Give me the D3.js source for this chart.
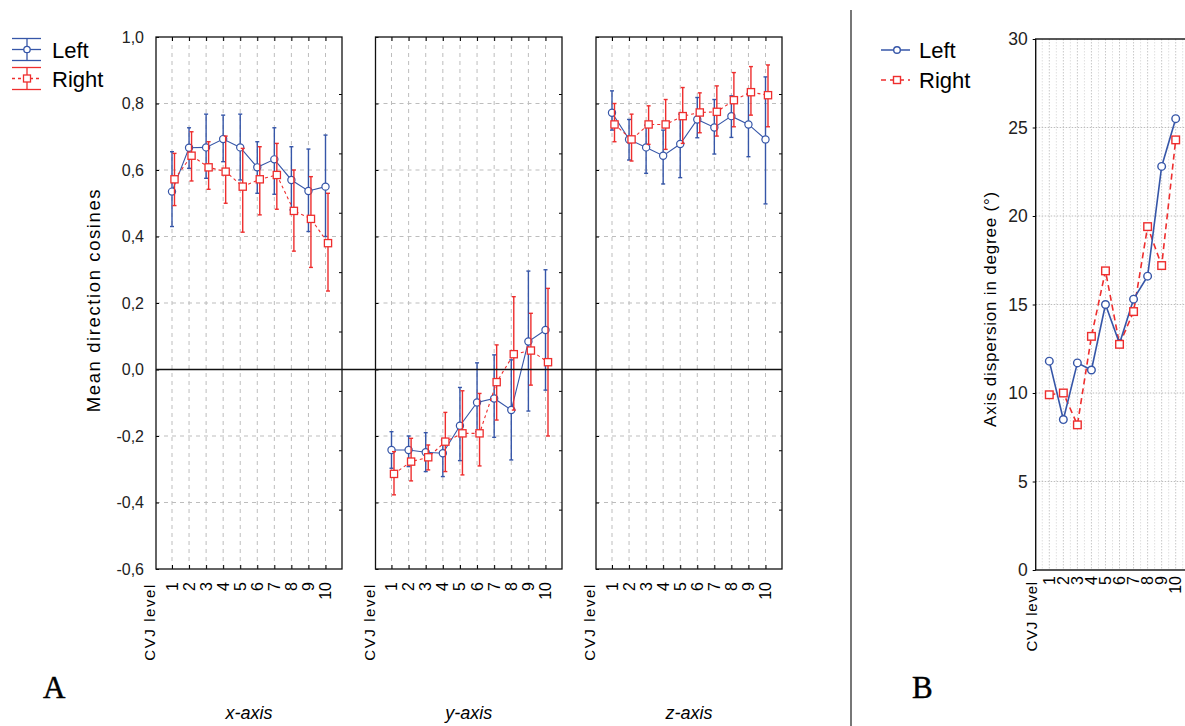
<!DOCTYPE html>
<html>
<head>
<meta charset="utf-8">
<script src="https://cdn.jsdelivr.net/npm/d3@7"></script>
<style>
  body { margin: 0; background: #fff; }
  svg { display: block; font-family: 'Liberation Sans', Arial, sans-serif; }
</style>
</head>
<body>
<svg id="chart" width="1185" height="726"></svg>
<script>
// CVJ levels and panel names
const levels = ['1', '2', '3', '4', '5', '6', '7', '8', '9', '10'];
const axisNames = ['x-axis', 'y-axis', 'z-axis'];
const cosineTicks = [-0.6, -0.4, -0.2, 0.0, 0.2, 0.4, 0.6, 0.8, 1.0];
const degreeTicks = [0, 5, 10, 15, 20, 25, 30];

// panel A, x-axis
const xLeftMean = [0.535, 0.667, 0.668, 0.693, 0.668, 0.608, 0.632, 0.570, 0.537, 0.550];
const xLeftLo   = [0.430, 0.605, 0.575, 0.625, 0.570, 0.530, 0.527, 0.480, 0.415, 0.400];
const xLeftHi   = [0.655, 0.727, 0.768, 0.765, 0.768, 0.685, 0.727, 0.670, 0.663, 0.705];
const xRightMean = [0.572, 0.643, 0.608, 0.595, 0.550, 0.572, 0.585, 0.477, 0.453, 0.380];
const xRightLo   = [0.493, 0.567, 0.542, 0.500, 0.413, 0.465, 0.482, 0.356, 0.307, 0.236];
const xRightHi   = [0.650, 0.715, 0.685, 0.702, 0.665, 0.670, 0.680, 0.600, 0.580, 0.530];

// panel A, y-axis
const yLeftMean = [-0.242, -0.242, -0.249, -0.252, -0.169, -0.099, -0.087, -0.122, 0.084, 0.119];
const yLeftLo   = [-0.297, -0.292, -0.307, -0.322, -0.274, -0.187, -0.204, -0.272, -0.125, -0.062];
const yLeftHi   = [-0.187, -0.200, -0.190, -0.212, -0.054, 0.020, 0.044, 0.029, 0.296, 0.300];
const yRightMean = [-0.314, -0.277, -0.264, -0.217, -0.192, -0.192, -0.038, 0.046, 0.057, 0.022];
const yRightLo   = [-0.377, -0.335, -0.302, -0.307, -0.317, -0.290, -0.152, -0.122, -0.047, -0.200];
const yRightHi   = [-0.247, -0.207, -0.227, -0.129, -0.064, -0.072, 0.074, 0.219, 0.169, 0.244];

// panel A, z-axis
const zLeftMean = [0.772, 0.692, 0.668, 0.643, 0.678, 0.752, 0.728, 0.762, 0.737, 0.692];
const zLeftLo   = [0.720, 0.630, 0.590, 0.558, 0.577, 0.697, 0.648, 0.698, 0.640, 0.498];
const zLeftHi   = [0.838, 0.752, 0.735, 0.720, 0.768, 0.818, 0.812, 0.823, 0.830, 0.880];
const zRightMean = [0.737, 0.692, 0.737, 0.737, 0.762, 0.773, 0.775, 0.810, 0.834, 0.825];
const zRightLo   = [0.685, 0.627, 0.677, 0.662, 0.680, 0.712, 0.702, 0.730, 0.765, 0.730];
const zRightHi   = [0.800, 0.768, 0.793, 0.812, 0.848, 0.832, 0.853, 0.893, 0.911, 0.916];

// panel B, axis dispersion (degrees)
const dispLeft  = [11.8, 8.5, 11.7, 11.3, 15.0, 12.8, 15.3, 16.6, 22.8, 25.5];
const dispRight = [9.9, 10.0, 8.2, 13.2, 16.9, 12.75, 14.6, 19.4, 17.2, 24.3];

const blue = '#3656a8';
const red = '#ee2e2e';
const gridColor = '#bdbdbd';

const svg = d3.select('#chart');

// ---------- panel A ----------
const yA = d3.scaleLinear().domain([-0.6, 1.0]).range([569, 37]);
// unlabeled right-hand ticks of each frame
const yRight = d3.scaleLinear().domain([0, 8.96]).range([569, 37]);
const panels = [[156, 342], [375.5, 562], [596, 782]];

const series = [
  { left: [xLeftMean, xLeftLo, xLeftHi], right: [xRightMean, xRightLo, xRightHi] },
  { left: [yLeftMean, yLeftLo, yLeftHi], right: [yRightMean, yRightLo, yRightHi] },
  { left: [zLeftMean, zLeftLo, zLeftHi], right: [zRightMean, zRightLo, zRightHi] }
];

const fmt = v => d3.format('.1f')(v).replace('.', ',').replace('−', '-');

panels.forEach((p, k) => {
  const g = svg.append('g');
  const x = d3.scalePoint().domain(levels).range([p[0] + 16, p[1] - 16.5]);

  // grid
  g.append('g').selectAll('line').data(cosineTicks.filter(t => t > -0.6 && t < 1.0 && t !== 0))
    .enter().append('line')
    .attr('x1', p[0]).attr('x2', p[1])
    .attr('y1', d => yA(d)).attr('y2', d => yA(d))
    .attr('stroke', gridColor).attr('stroke-dasharray', '4,4');
  g.append('g').selectAll('line').data(levels)
    .enter().append('line')
    .attr('x1', d => x(d)).attr('x2', d => x(d))
    .attr('y1', yA(1.0)).attr('y2', yA(-0.6))
    .attr('stroke', gridColor).attr('stroke-dasharray', '4,4');

  // inward ticks on all sides
  g.append('g').attr('transform', `translate(${p[0]},0)`)
    .call(d3.axisRight(yA).tickValues(cosineTicks).tickSize(3).tickFormat(''))
    .call(a => a.select('.domain').remove());
  g.append('g').attr('transform', `translate(${p[1]},0)`)
    .call(d3.axisLeft(yRight).tickValues([1, 2, 3, 4, 5, 6, 7, 8]).tickSize(3).tickFormat(''))
    .call(a => a.select('.domain').remove());
  g.append('g').attr('transform', `translate(0,${yA(-0.6)})`)
    .call(d3.axisTop(x).tickSize(4).tickFormat(''))
    .call(a => a.select('.domain').remove());
  g.append('g').attr('transform', `translate(0,${yA(1.0)})`)
    .call(d3.axisBottom(x).tickSize(4).tickFormat(''))
    .call(a => a.select('.domain').remove());

  // rotated level labels
  g.append('g').selectAll('text').data(levels)
    .enter().append('text')
    .attr('transform', d => `translate(${x(d) + 5.5},582) rotate(-90)`)
    .attr('text-anchor', 'end')
    .attr('font-size', 16)
    .text(d => d);
  g.append('text')
    .attr('transform', `translate(${p[0] - 1},583) rotate(-90)`)
    .attr('text-anchor', 'end')
    .attr('font-size', 15)
    .attr('letter-spacing', 1.6)
    .text('CVJ level');

  // panel title
  g.append('text')
    .attr('x', (p[0] + p[1]) / 2).attr('y', 719)
    .attr('text-anchor', 'middle')
    .attr('font-size', 18).attr('font-style', 'italic')
    .text(axisNames[k]);

  // frame
  g.append('rect')
    .attr('x', p[0]).attr('y', yA(1.0))
    .attr('width', p[1] - p[0]).attr('height', yA(-0.6) - yA(1.0))
    .attr('fill', 'none').attr('stroke', '#111').attr('stroke-width', 1.3);

  const drawSeries = (vals, color, dash, dx, shape) => {
    const [mean, lo, hi] = vals;
    const line = d3.line().x((d, i) => x(levels[i]) + dx).y(d => yA(d));
    g.append('path').datum(mean)
      .attr('d', line).attr('fill', 'none')
      .attr('stroke', color).attr('stroke-width', 1.1)
      .attr('stroke-dasharray', dash);
    const eb = g.append('g').attr('stroke', color).attr('stroke-width', 1.4);
    levels.forEach((l, i) => {
      const cx = x(l) + dx;
      eb.append('line').attr('x1', cx).attr('x2', cx).attr('y1', yA(lo[i])).attr('y2', yA(hi[i]));
      eb.append('line').attr('x1', cx - 2).attr('x2', cx + 2).attr('y1', yA(lo[i])).attr('y2', yA(lo[i]));
      eb.append('line').attr('x1', cx - 2).attr('x2', cx + 2).attr('y1', yA(hi[i])).attr('y2', yA(hi[i]));
    });
    if (shape === 'circle') {
      g.append('g').selectAll('circle').data(mean).enter().append('circle')
        .attr('cx', (d, i) => x(levels[i]) + dx).attr('cy', d => yA(d)).attr('r', 3.6)
        .attr('fill', '#fff').attr('stroke', color).attr('stroke-width', 1.2);
    } else {
      g.append('g').selectAll('rect').data(mean).enter().append('rect')
        .attr('x', (d, i) => x(levels[i]) + dx - 3.6).attr('y', d => yA(d) - 3.6)
        .attr('width', 7.2).attr('height', 7.2)
        .attr('fill', '#fff').attr('stroke', color).attr('stroke-width', 1.3);
    }
  };
  drawSeries(series[k].left, blue, null, 0, 'circle');
  drawSeries(series[k].right, red, '3,3', 2.5, 'square');
});

// zero line across all three frames
svg.append('line')
  .attr('x1', panels[0][0]).attr('x2', panels[2][1])
  .attr('y1', yA(0)).attr('y2', yA(0))
  .attr('stroke', '#111').attr('stroke-width', 1.5);

// left axis labels
svg.append('g').attr('transform', `translate(${panels[0][0]},0)`)
  .call(d3.axisLeft(yA).tickValues(cosineTicks).tickSize(0).tickPadding(12).tickFormat(fmt))
  .call(a => a.select('.domain').remove())
  .call(a => a.selectAll('text').attr('font-size', 16).attr('fill', '#222')
    .attr('font-family', "'Liberation Sans Narrow', 'Liberation Sans', Arial, sans-serif"));

svg.append('text')
  .attr('transform', 'translate(100,300) rotate(-90)')
  .attr('text-anchor', 'middle').attr('font-size', 18.5).attr('letter-spacing', 1.6)
  .text('Mean direction cosines');

// legend A
const legA = svg.append('g');
[[49.5, blue, null, 'Left'], [78.5, red, '3,3', 'Right']].forEach(([cy, color, dash, label]) => {
  const lg = legA.append('g').attr('stroke', color).attr('stroke-width', 1.3);
  lg.append('line').attr('x1', 12).attr('x2', 41).attr('y1', cy - 11).attr('y2', cy - 11);
  lg.append('line').attr('x1', 12).attr('x2', 41).attr('y1', cy + 11).attr('y2', cy + 11);
  lg.append('line').attr('x1', 27).attr('x2', 27).attr('y1', cy - 11).attr('y2', cy + 11);
  lg.append('line').attr('x1', 12).attr('x2', 41).attr('y1', cy).attr('y2', cy).attr('stroke-dasharray', dash);
  if (label === 'Left') {
    lg.append('circle').attr('cx', 27).attr('cy', cy).attr('r', 3.2).attr('fill', '#fff');
  } else {
    lg.append('rect').attr('x', 23.5).attr('y', cy - 3.5).attr('width', 7).attr('height', 7).attr('fill', '#fff');
  }
  legA.append('text').attr('x', 52).attr('y', cy + 8).attr('font-size', 22).text(label);
});

svg.append('text').attr('x', 43).attr('y', 698)
  .attr('font-family', "'Liberation Serif', 'Times New Roman', serif")
  .attr('font-size', 31).attr('stroke', '#000').attr('stroke-width', 0.5).text('A');

// divider
svg.append('line').attr('x1', 851).attr('x2', 851).attr('y1', 10).attr('y2', 726)
  .attr('stroke', '#777').attr('stroke-width', 2);

// ---------- panel B ----------
const bLeft = 1035.7, bRight = 1190, bTop = 39, bBottom = 570;
const yB = d3.scaleLinear().domain([0, 30]).range([bBottom, bTop]);
const xB = d3.scalePoint().domain(levels).range([1049.3, 1175.7]);
const gB = svg.append('g');

// grid: levels and half levels
const halfSteps = d3.range(0.5, 11, 0.5);
gB.append('g').selectAll('line').data(halfSteps).enter().append('line')
  .attr('x1', d => xB('1') + (d - 1) * xB.step()).attr('x2', d => xB('1') + (d - 1) * xB.step())
  .attr('y1', bTop).attr('y2', bBottom)
  .attr('stroke', d => Number.isInteger(d) ? '#c8c8c8' : '#e0e0e0')
  .attr('stroke-dasharray', '1.5,1.5');
gB.append('g').selectAll('line').data(degreeTicks.filter(t => t > 0 && t < 30)).enter().append('line')
  .attr('x1', bLeft).attr('x2', bRight)
  .attr('y1', d => yB(d)).attr('y2', d => yB(d))
  .attr('stroke', '#bdbdbd').attr('stroke-dasharray', '1.5,1.5');

gB.append('rect').attr('x', bLeft).attr('y', bTop)
  .attr('width', bRight - bLeft).attr('height', bBottom - bTop)
  .attr('fill', 'none').attr('stroke', '#111').attr('stroke-width', 1.4);

gB.append('g').attr('transform', `translate(${bLeft},0)`)
  .call(d3.axisLeft(yB).tickValues(degreeTicks).tickSize(3).tickPadding(5))
  .call(a => a.select('.domain').remove())
  .call(a => a.selectAll('text').attr('font-size', 17.5).attr('fill', '#222')
    .attr('font-family', "'Liberation Sans Narrow', 'Liberation Sans', Arial, sans-serif"));

gB.append('g').selectAll('text').data(levels).enter().append('text')
  .attr('transform', d => `translate(${xB(d) + 5.5},576) rotate(-90)`)
  .attr('text-anchor', 'end').attr('font-size', 16)
  .text(d => d);
gB.append('text')
  .attr('transform', `translate(1037,581) rotate(-90)`)
  .attr('text-anchor', 'end').attr('font-size', 15).attr('letter-spacing', 0.8)
  .text('CVJ level');

svg.append('text')
  .attr('transform', 'translate(996,309) rotate(-90)')
  .attr('text-anchor', 'middle').attr('font-size', 17).attr('letter-spacing', 0.8)
  .text('Axis dispersion in degree (°)');

const lineB = d3.line().x((d, i) => xB(levels[i])).y(d => yB(d));
gB.append('path').datum(dispRight).attr('d', lineB).attr('fill', 'none')
  .attr('stroke', red).attr('stroke-width', 1.6).attr('stroke-dasharray', '6,4');
gB.append('path').datum(dispLeft).attr('d', lineB).attr('fill', 'none')
  .attr('stroke', blue).attr('stroke-width', 1.6);
gB.append('g').selectAll('circle').data(dispLeft).enter().append('circle')
  .attr('cx', (d, i) => xB(levels[i])).attr('cy', d => yB(d)).attr('r', 3.8)
  .attr('fill', '#fff').attr('stroke', blue).attr('stroke-width', 1.4);
gB.append('g').selectAll('rect').data(dispRight).enter().append('rect')
  .attr('x', (d, i) => xB(levels[i]) - 3.8).attr('y', d => yB(d) - 3.8)
  .attr('width', 7.6).attr('height', 7.6)
  .attr('fill', '#fff').attr('stroke', red).attr('stroke-width', 1.4);

// legend B
[[50, blue, null, 'Left'], [80, red, '5,4', 'Right']].forEach(([cy, color, dash, label]) => {
  svg.append('line').attr('x1', 881).attr('x2', 910).attr('y1', cy).attr('y2', cy)
    .attr('stroke', color).attr('stroke-width', 1.5).attr('stroke-dasharray', dash);
  if (label === 'Left') {
    svg.append('circle').attr('cx', 897).attr('cy', cy).attr('r', 3.3)
      .attr('fill', '#fff').attr('stroke', color).attr('stroke-width', 1.4);
  } else {
    svg.append('rect').attr('x', 893.5).attr('y', cy - 3.5).attr('width', 7).attr('height', 7)
      .attr('fill', '#fff').attr('stroke', color).attr('stroke-width', 1.4);
  }
  svg.append('text').attr('x', 919).attr('y', cy + 8).attr('font-size', 22).text(label);
});

svg.append('text').attr('x', 912).attr('y', 698)
  .attr('font-family', "'Liberation Serif', 'Times New Roman', serif")
  .attr('font-size', 31).attr('stroke', '#000').attr('stroke-width', 0.5).text('B');
</script>
</body>
</html>
